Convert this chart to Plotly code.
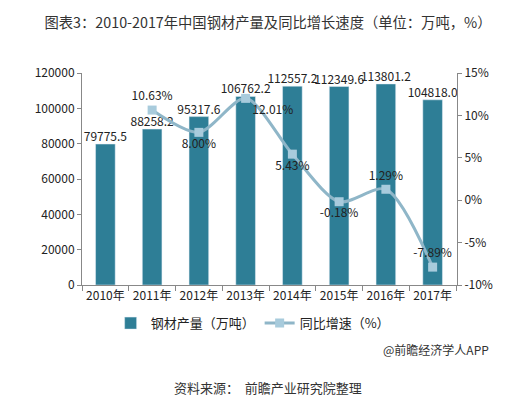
import plotly.graph_objects as go

years = ["2010年", "2011年", "2012年", "2013年", "2014年", "2015年", "2016年", "2017年"]
output = [79775.5, 88258.2, 95317.6, 106762.2, 112557.2, 112349.6, 113801.2, 104818.0]
growth_years = ["2011年", "2012年", "2013年", "2014年", "2015年", "2016年", "2017年"]
growth = [10.63, 8.00, 12.01, 5.43, -0.18, 1.29, -7.89]
growth_pos = ["top center", "bottom center", "bottom right", "bottom center",
              "bottom center", "top center", "top center"]
left_ticks = [0, 20000, 40000, 60000, 80000, 100000, 120000]
right_ticks = [-10, -5, 0, 5, 10, 15]
right_tick_text = ["-10%", "-5%", "0%", "5%", "10%", "15%"]

FONT = "Noto Sans CJK SC, Noto Sans, sans-serif"
BAR_C = "#2e7e96"
LINE_C = "#8fb6c8"
MARK_C = "#a8cbdc"

fig = go.Figure()
fig.add_trace(go.Bar(
    x=years, y=output, name="钢材产量（万吨）",
    marker=dict(color=BAR_C), width=0.42,
))
fig.add_trace(go.Scatter(
    x=years, y=output, mode="text", showlegend=False, hoverinfo="skip",
    text=[f"{v:.1f}" for v in output], textposition="top center",
    textfont=dict(size=12, color="#222", family=FONT), cliponaxis=False,
))
fig.add_trace(go.Scatter(
    x=growth_years, y=growth, name="同比增速（%）", yaxis="y2",
    mode="lines+markers+text", line=dict(color=LINE_C, width=3, shape="spline", smoothing=0.8),
    marker=dict(symbol="square", size=9, color=MARK_C),
    text=[f"{v:.2f}%" for v in growth], textposition=growth_pos,
    textfont=dict(size=12, color="#222", family=FONT), cliponaxis=False,
))

fig.update_layout(
    width=520, height=399,
    margin=dict(l=74, r=71, t=65, b=122),
    paper_bgcolor="white", plot_bgcolor="white",
    font=dict(family=FONT, size=12, color="#333"),
    showlegend=True,
    legend=dict(orientation="h", x=0.455, xanchor="center", y=-0.18, yanchor="middle",
                font=dict(size=13, color="#222"), itemwidth=30, tracegroupgap=0),
    xaxis=dict(showline=True, linecolor="#888", ticks="outside", tickson="boundaries",
               ticklen=5, tickcolor="#888", showgrid=False, tickangle=0,
               tickfont=dict(size=12, color="#222")),
    yaxis=dict(range=[0, 120000], tickvals=left_ticks, ticktext=[str(v) for v in left_ticks],
               showline=True, linecolor="#888",
               ticks="outside", ticklen=4, tickcolor="#888", showgrid=False, zeroline=False,
               tickfont=dict(size=12, color="#222")),
    yaxis2=dict(range=[-10, 15], tickvals=right_ticks, ticktext=right_tick_text,
                overlaying="y", side="right", showline=True,
                linecolor="#888", ticks="outside", ticklen=4, tickcolor="#888",
                showgrid=False, zeroline=False,
                tickfont=dict(size=12, color="#222")),
    title=dict(text="图表3：2010-2017年中国钢材产量及同比增长速度（单位：万吨，%）",
               x=0.5, xanchor="center", y=1 - 15 / 399, yanchor="middle",
               font=dict(size=14.3, color="#333")),
    annotations=[
        dict(text="@前瞻经济学人APP", xref="paper", yref="paper", x=(483 - 74) / 375,
             y=(277 - 341) / 212, xanchor="right", yanchor="middle", showarrow=False,
             font=dict(size=12, color="#333")),
        dict(text="资料来源：  前瞻产业研究院整理", xref="paper", yref="paper",
             x=(260 - 74) / 375, y=(277 - 379) / 212, xanchor="center", yanchor="middle",
             showarrow=False, font=dict(size=13, color="#333")),
    ],
)

fig.write_html("out.html")
